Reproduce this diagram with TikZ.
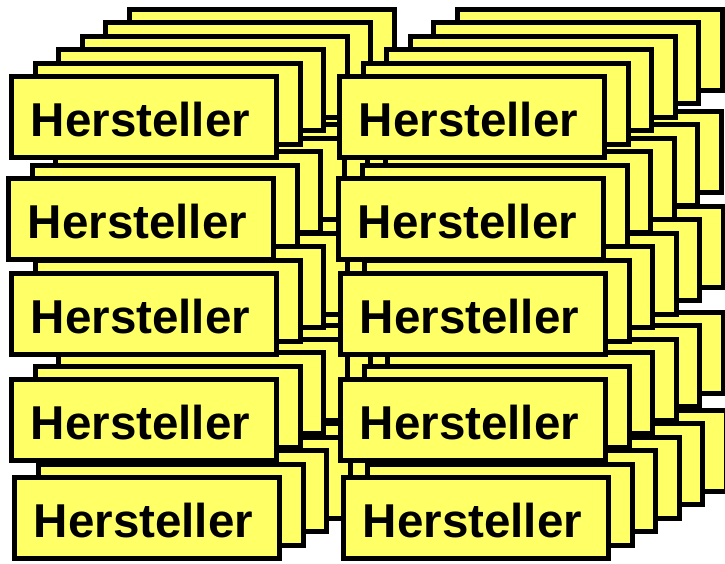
\documentclass[tikz,border=0pt]{standalone}
\usepackage{fontspec}
\setsansfont{Liberation Sans}
\definecolor{herstgelb}{HTML}{FFFF66}
\tikzset{herst/.style={draw=black,line width=5pt,fill=herstgelb,minimum width=265pt,minimum height=81pt,inner sep=0pt,text height=40pt,font=\sffamily\bfseries\fontsize{47.5}{50}\selectfont}}

\begin{document}
\begin{tikzpicture}[x=1pt,y=-1pt]
 \useasboundingbox (0,0) rectangle (725,563);
 % hintere Lagen, von hinten nach vorne
 \foreach \k in {5,...,1} \foreach \c/\x/\y in {l1/144/117,l2/141/219,l3/144/314,l4/144/420,l5/147/518,r1/472/117,r2/471/219,r3/473/314,r4/473/420,r5/476/518} \node[herst] (\c-\k) at (\x+23.5*\k,\y-13.5*\k) {};
 % vorderste Lage
 \foreach \c/\x/\y in {l1/144/117,l2/141/219,l3/144/314,l4/144/420,l5/147/518,r1/472/117,r2/471/219,r3/473/314,r4/473/420,r5/476/518} \node[herst] (\c) at (\x,\y) {Hersteller\kern7pt};
\end{tikzpicture}
\end{document}
